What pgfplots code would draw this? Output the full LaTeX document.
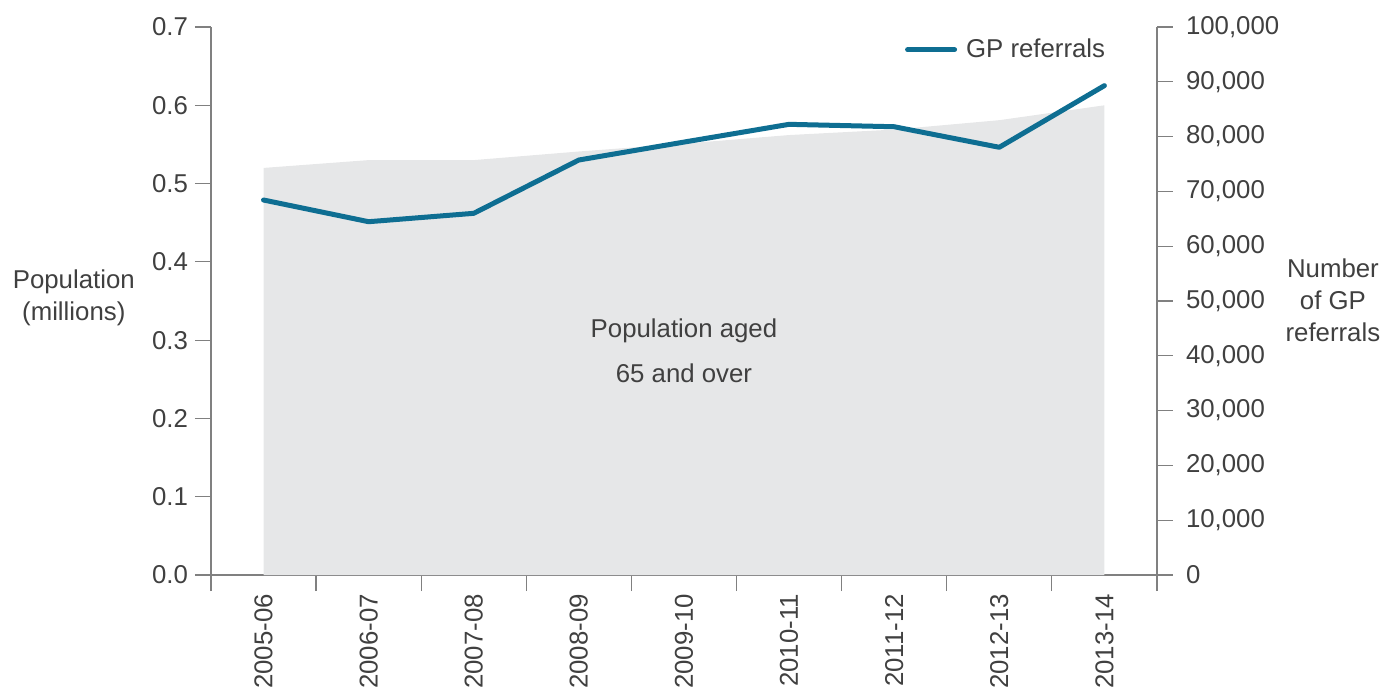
\documentclass[border=0pt]{standalone}
\usepackage{fontspec}
\setmainfont{Liberation Sans}
\usepackage{pgfplots}
\pgfplotsset{compat=1.18}

\definecolor{linecol}{HTML}{0E6E92}
\definecolor{areacol}{HTML}{E6E7E8}
\definecolor{axiscol}{HTML}{808080}
\definecolor{textcol}{HTML}{404040}

\newcommand{\chartfont}{\fontsize{12.9}{15}\selectfont}

\pgfplotsset{
  base/.style={
    scale only axis, width=473pt, height=274pt,
    xmin=-0.5, xmax=8.5, ymin=0,
    clip=false,
    tick align=outside,
    major tick length=8pt, minor tick length=8pt,
    axis line style={axiscol, line width=0.6pt},
    every tick/.style={axiscol, line width=0.6pt},
    tick label style={font=\chartfont, text=textcol},
    /pgf/number format/assume math mode=true,
  }
}

\begin{document}
\begin{tikzpicture}
\begin{axis}[base,
  ymax=0.7,
  axis x line*=bottom, axis y line*=left,
  xtick={0,1,2,3,4,5,6,7,8},
  xticklabels={2005-06,2006-07,2007-08,2008-09,2009-10,2010-11,2011-12,2012-13,2013-14},
  minor xtick={-0.5,0.5,1.5,2.5,3.5,4.5,5.5,6.5,7.5,8.5},
  major x tick style={draw=none},
  xticklabel style={rotate=90, anchor=east, xshift=2pt},
  ytick={0,0.1,0.2,0.3,0.4,0.5,0.6,0.7},
  yticklabel style={/pgf/number format/.cd, fixed, fixed zerofill, precision=1},
]
\addplot[fill=areacol, draw=none] coordinates {
  (0,0.520) (1,0.530) (2,0.530) (3,0.541) (4,0.551)
  (5,0.562) (6,0.569) (7,0.581) (8,0.600)
} \closedcycle;
\node[align=center, font=\fontsize{12.9}{22.5}\selectfont, text=textcol]
  at (axis cs:4,0.286) {Population aged\\65 and over};
\node[align=center, font=\fontsize{12.9}{16}\selectfont, text=textcol]
  at (rel axis cs:-0.145,0.505) {Population\\(millions)};
\node[align=center, font=\fontsize{12.9}{16}\selectfont, text=textcol]
  at (rel axis cs:1.186,0.502) {Number\\of GP\\referrals};
\coordinate (bl) at (rel axis cs:-0.223,-0.2153);
\coordinate (tr) at (rel axis cs:1.2548,1.0493);
\end{axis}
\begin{axis}[base,
  ymax=100000,
  axis x line=none, axis y line*=right,
  ytick={0,10000,20000,30000,40000,50000,60000,70000,80000,90000,100000},
  scaled y ticks=false,
  yticklabel style={xshift=3pt, /pgf/number format/.cd, fixed, 1000 sep={,}},
  legend style={draw=none, fill=none, at={(rel axis cs:0.952,0.99)}, anchor=north east,
    font=\chartfont, text=textcol, inner sep=1pt},
  legend image code/.code={\draw[#1] (0pt,0pt) -- (23.5pt,0pt); \path (26pt,0pt);},
]
\addplot[linecol, line width=2.5pt, line join=round, line cap=round] coordinates {
  (0,68430) (1,64470) (2,66000) (3,75730) (4,79000)
  (5,82240) (6,81800) (7,78050) (8,89300)
};
\addlegendentry{GP referrals}
\end{axis}
\pgfresetboundingbox
\useasboundingbox (bl) rectangle (tr);
\end{tikzpicture}
\end{document}
